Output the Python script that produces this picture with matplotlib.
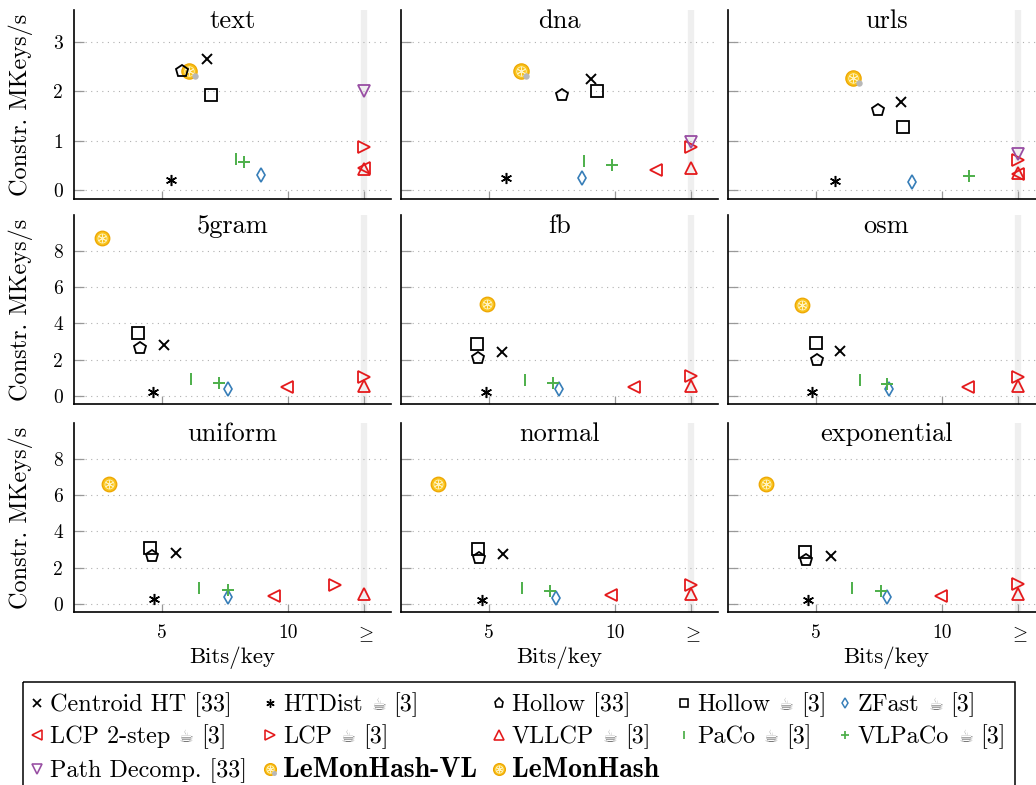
import numpy as np
import matplotlib
matplotlib.use("Agg")
import matplotlib.pyplot as plt
from matplotlib.lines import Line2D
from matplotlib.patches import Rectangle
from matplotlib.transforms import Affine2D, offset_copy

plt.rcParams['font.family'] = ['cmr10', 'DejaVu Sans']
plt.rcParams['mathtext.fontset'] = 'cm'
plt.rcParams['axes.formatter.use_mathtext'] = True

nan = np.nan

# datasets: text, dna, urls | 5gram, fb, osm | uniform, normal, exponential
datasets = ['text', 'dna', 'urls', '5gram', 'fb', 'osm', 'uniform', 'normal', 'exponential']

centroid_x = [6.80, 9.04, 8.37, 5.08, 5.50, 5.97, 5.54, 5.56, 5.59]
centroid_y = [2.65, 2.26, 1.78, 2.83, 2.42, 2.46, 2.84, 2.75, 2.67]
htdist_x = [5.38, 5.67, 5.75, 4.65, 4.87, 4.85, 4.68, 4.71, 4.70]
htdist_y = [0.20, 0.25, 0.18, 0.24, 0.24, 0.20, 0.28, 0.22, 0.22]
hollow33_x = [5.79, 7.89, 7.45, 4.15, 4.56, 5.05, 4.62, 4.62, 4.63]
hollow33_y = [2.41, 1.92, 1.63, 2.64, 2.09, 2.00, 2.67, 2.56, 2.43]
hollow3_x = [6.93, 9.29, 8.44, 4.06, 4.52, 5.00, 4.52, 4.56, 4.57]
hollow3_y = [1.92, 2.01, 1.27, 3.47, 2.88, 2.92, 3.08, 3.03, 2.89]
zfast_x = [8.92, 8.69, 8.79, 7.60, 7.76, 7.89, 7.63, 7.64, 7.82]
zfast_y = [0.31, 0.25, 0.16, 0.41, 0.39, 0.37, 0.37, 0.35, 0.37]
lcp2_x = [13, 11.6, 13, 9.95, 10.75, 11.0, 9.44, 9.83, 9.95]
lcp2_y = [0.45, 0.40, 0.33, 0.48, 0.48, 0.48, 0.44, 0.50, 0.46]
lcp_x = [13, 13, 13, 13, 13, 13, 11.83, 13, 13]
lcp_y = [0.88, 0.88, 0.61, 1.07, 1.13, 1.07, 1.05, 1.05, 1.10]
vllcp_x = [13, 13, 13, 13, 13, 13, 13, 13, 13]
vllcp_y = [0.43, 0.45, 0.35, 0.55, 0.57, 0.55, 0.55, 0.55, 0.55]
paco_x = [7.91, 8.75, nan, 6.14, 6.44, 6.73, 6.48, 6.31, 6.44]
paco_y = [0.63, 0.59, nan, 0.94, 0.89, 0.89, 0.87, 0.87, 0.87]
vlpaco_x = [8.23, 9.86, 11.06, 7.24, 7.53, 7.82, 7.63, 7.40, 7.56]
vlpaco_y = [0.57, 0.50, 0.29, 0.74, 0.74, 0.66, 0.77, 0.72, 0.74]
pathdec_x = [13, 13, 13, nan, nan, nan, nan, nan, nan]
pathdec_y = [2.01, 0.97, 0.74, nan, nan, nan, nan, nan, nan]
lemonvl_x = [6.08, 6.26, 6.47, nan, nan, nan, nan, nan, nan]
lemonvl_y = [2.41, 2.41, 2.28, nan, nan, nan, nan, nan, nan]
lemon_x = [nan, nan, nan, 2.63, 4.93, 4.46, 2.91, 3.00, 3.02]
lemon_y = [nan, nan, nan, 8.70, 5.10, 5.04, 6.62, 6.62, 6.62]

xticks = [5, 10, 13]
xticklabels = ['5', '10', r'$\geq$']
yticks_top = [0, 1, 2, 3]
yticks_rest = [0, 2, 4, 6, 8]

RED = '#e41a1c'
BLUE = '#377eb8'
GREEN = '#4daf4a'
PURPLE = '#984ea3'

styles = {
    'centroid': dict(marker='x', ms=7, mec='black', mew=1.4),
    'htdist': dict(marker=(6, 2, 0), ms=8, mec='black', mew=1.1),
    'hollow33': dict(marker='p', ms=9, mfc='none', mec='black', mew=1.3),
    'hollow3': dict(marker='s', ms=8.5, mfc='none', mec='black', mew=1.3),
    'zfast': dict(marker='d', ms=6.7, mfc='none', mec=BLUE, mew=1.2),
    'lcp2': dict(marker='<', ms=9, mfc='none', mec=RED, mew=1.3),
    'lcp': dict(marker='>', ms=9, mfc='none', mec=RED, mew=1.3),
    'vllcp': dict(marker='^', ms=9, mfc='none', mec=RED, mew=1.3),
    'paco': dict(marker='|', ms=8.5, mec=GREEN, mew=1.4),
    'vlpaco': dict(marker='+', ms=8.5, mec=GREEN, mew=1.4),
    'pathdec': dict(marker='v', ms=9, mfc='none', mec=PURPLE, mew=1.3),
}

series = [
    ('centroid', centroid_x, centroid_y),
    ('htdist', htdist_x, htdist_y),
    ('hollow33', hollow33_x, hollow33_y),
    ('hollow3', hollow3_x, hollow3_y),
    ('zfast', zfast_x, zfast_y),
    ('lcp2', lcp2_x, lcp2_y),
    ('lcp', lcp_x, lcp_y),
    ('vllcp', vllcp_x, vllcp_y),
    ('paco', paco_x, paco_y),
    ('vlpaco', vlpaco_x, vlpaco_y),
    ('pathdec', pathdec_x, pathdec_y),
]

W, H = 1036, 785
fig = plt.figure(figsize=(W / 100, H / 100), dpi=100)


def draw_lemon(add, x, y, ms, trans, vl=False):
    add(Line2D(x, y, transform=trans, ls='none', marker='o', ms=ms,
               mfc='#f8c21a', mec='#eea600', mew=0.9))
    add(Line2D(x, y, transform=trans, ls='none', marker='o', ms=ms * 0.62,
               mfc='none', mec='#fff2bf', mew=0.6))
    add(Line2D(x, y, transform=trans, ls='none', marker=(6, 2, 0), ms=ms * 0.62,
               mec='#fff2bf', mew=0.6))
    if vl:
        dt = offset_copy(trans, fig=fig, x=ms * 0.36, y=-ms * 0.33, units='points')
        add(Line2D(x, y, transform=dt, ls='none', marker='o', ms=ms * 0.42,
                   mfc='#b8b8b8', mec='#b8b8b8', mew=0))


cols_left = [74, 401, 728]
rows_top = [10, 215, 423]
ax_w, ax_h = 317, 189

for i, name in enumerate(datasets):
    r, c = divmod(i, 3)
    ax = fig.add_axes([cols_left[c] / W, 1 - (rows_top[r] + ax_h) / H, ax_w / W, ax_h / H])
    ax.set_xlim(1.53, 14.05)
    if r == 0:
        ax.set_ylim(-0.18, 3.65)
        yt = yticks_top
    else:
        ax.set_ylim(-0.44, 9.98)
        yt = yticks_rest
    ax.axvline(13, color='#efefef', lw=4.5, zorder=0)
    ax.set_xticks(xticks)
    ax.set_yticks(yt)
    if r == 2:
        ax.set_xticklabels(xticklabels)
    else:
        ax.set_xticklabels([])
    if c == 0:
        ax.set_yticklabels([str(v) for v in yt])
    else:
        ax.set_yticklabels([])
    ax.tick_params(axis='x', direction='in', length=6, width=0.9, color='#999999',
                   labelsize=14, pad=9)
    ax.tick_params(axis='y', direction='in', length=7, width=0.9, color='#999999',
                   labelsize=14, pad=8)
    ax.yaxis.grid(True, color='#b0b0b0', linestyle=(0, (1, 4)), linewidth=0.8)
    ax.set_axisbelow(True)
    for s in ['top', 'right']:
        ax.spines[s].set_visible(False)
    for s in ['left', 'bottom']:
        ax.spines[s].set_linewidth(1.2)

    for key, xs, ys in series:
        ax.plot(xs[i], ys[i], ls='none', clip_on=False, zorder=3, **styles[key])
    draw_lemon(ax.add_line, [lemonvl_x[i]], [lemonvl_y[i]], 11, ax.transData, vl=True)
    draw_lemon(ax.add_line, [lemon_x[i]], [lemon_y[i]], 10.5, ax.transData)

    ax.text(0.5, 1 - 18 / ax_h, name, transform=ax.transAxes, ha='center',
            va='baseline', fontsize=19)
    if c == 0:
        ax.text(-(74 - 21) / ax_w, 0.5, 'Constr. MKeys/s', transform=ax.transAxes,
                rotation=90, ha='center', va='center', fontsize=17.5)
    if r == 2:
        ax.text(0.5, -(658 - 612) / ax_h, 'Bits/key', transform=ax.transAxes,
                ha='center', va='center', fontsize=16.5)

# legend drawn by hand, in pixel coordinates from the top-left corner
px = Affine2D().scale(1 / W, -1 / H).translate(0, 1) + fig.transFigure
fig.add_artist(Rectangle((22.7, 682), 992, 130, transform=px, fill=False,
                         lw=1.1, ec='black', clip_on=False))

leg_cols = [37, 270, 499, 684, 845]
leg_rows = [703, 735, 769]
CUP = '\u2615'
entries = [
    (0, 0, 'centroid', ['Centroid HT [33]']),
    (1, 0, 'htdist', ['HTDist', CUP, '[3]']),
    (2, 0, 'hollow33', ['Hollow [33]']),
    (3, 0, 'hollow3', ['Hollow', CUP, '[3]']),
    (4, 0, 'zfast', ['ZFast', CUP, '[3]']),
    (0, 1, 'lcp2', ['LCP 2-step', CUP, '[3]']),
    (1, 1, 'lcp', ['LCP', CUP, '[3]']),
    (2, 1, 'vllcp', ['VLLCP', CUP, '[3]']),
    (3, 1, 'paco', ['PaCo', CUP, '[3]']),
    (4, 1, 'vlpaco', ['VLPaCo', CUP, '[3]']),
    (0, 2, 'pathdec', ['Path Decomp. [33]']),
    (1, 2, 'lemonvl', ['LeMonHash-VL']),
    (2, 2, 'lemon', ['LeMonHash']),
]

renderer = fig.canvas.get_renderer()
for c, r, key, pieces in entries:
    mx, my = leg_cols[c], leg_rows[r]
    if key == 'lemonvl':
        draw_lemon(fig.add_artist, [mx], [my], 8.5, px, vl=True)
    elif key == 'lemon':
        draw_lemon(fig.add_artist, [mx], [my], 8.5, px)
    else:
        st = dict(styles[key])
        st['ms'] = st['ms'] * 0.75
        st['mew'] = st['mew'] * 0.9
        fig.add_artist(Line2D([mx], [my], transform=px, ls='none', **st))
    x = mx + 13
    for p in pieces:
        if p == CUP:
            t = fig.text(x, my + 7, p, transform=px, ha='left', va='baseline',
                         fontsize=12, color='#7a7a7a', family='DejaVu Sans')
            x += t.get_window_extent(renderer).width + 7
        else:
            bold = key in ('lemonvl', 'lemon')
            t = fig.text(x, my + 8, p, transform=px, ha='left', va='baseline',
                         fontsize=20 if bold else 17.4,
                         family='cmb10' if bold else ['cmr10', 'DejaVu Sans'])
            x += t.get_window_extent(renderer).width + 9

fig.savefig('out.png', dpi=100)
